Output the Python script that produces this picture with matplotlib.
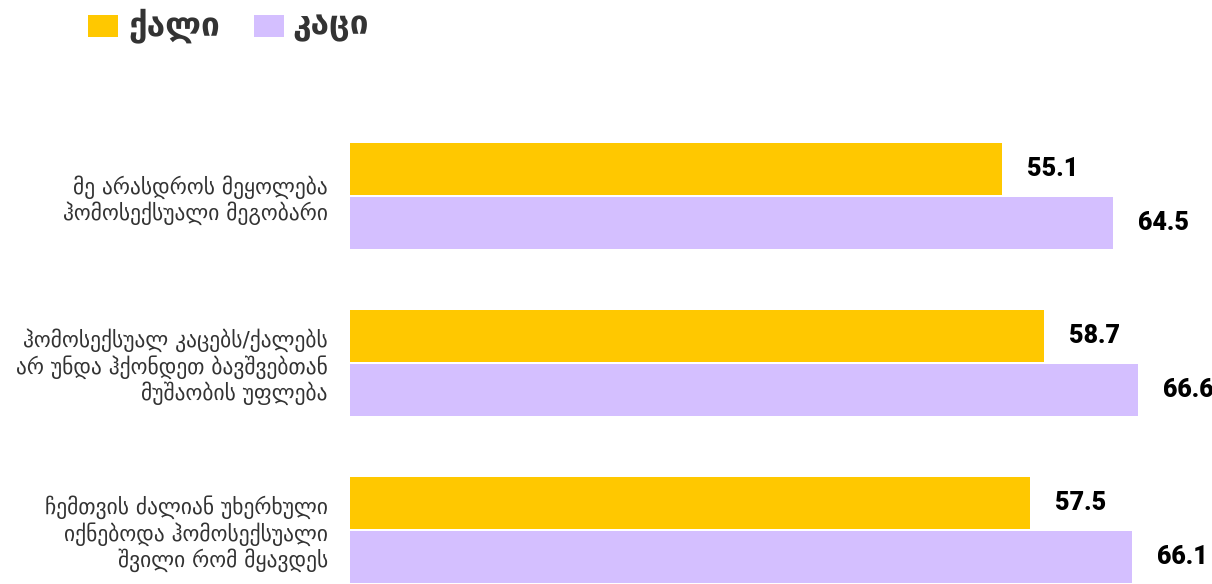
import matplotlib
matplotlib.use('Agg')
import matplotlib.pyplot as plt
from matplotlib.patches import Rectangle
import numpy

categories = [
    'მე არასდროს მეყოლება\nჰომოსექსუალი მეგობარი',
    'ჰომოსექსუალ კაცებს/ქალებს\nარ უნდა ჰქონდეთ ბავშვებთან\nმუშაობის უფლება',
    'ჩემთვის ძალიან უხერხული\nიქნებოდა ჰომოსექსუალი\nშვილი რომ მყავდეს',
]
series_names = ['ქალი', 'კაცი']
women = [55.1, 58.7, 57.5]
men = [64.5, 66.6, 66.1]
colors = ['#FFC800', '#D4BFFF']

W, H = 1212, 584
fig = plt.figure(figsize=(W / 100, H / 100), dpi=100)

# axes: x=0 at px 350, 11.83 px per unit; group pitch 167 px
left = 350 / W
ax = fig.add_axes([left, 0, 1 - left, (H - 96) / H])
ax.set_xlim(0, (W - 350) / 11.83)
ax.set_ylim(2.323, -0.6)

y = numpy.arange(len(categories))
h = 52 / 167
off = 27 / 167
for vals, color, sign in zip([women, men], colors, [-1, 1]):
    bars = ax.barh(y + sign * off, vals, height=h, color=color, linewidth=0)
    for b, v in zip(bars, vals):
        ax.annotate('%.1f' % v, (v, b.get_y() + b.get_height() / 2),
                    xytext=(25, 0), textcoords='offset pixels',
                    ha='left', va='center', fontsize=18, fontweight=900,
                    family='Roboto', color='black')

ax.set_yticks(y)
ax.set_yticklabels(categories, fontsize=15.5, color='#333333',
                   family='DejaVu Sans', linespacing=1.15)
ax.tick_params(axis='y', length=0, pad=16)
ax.set_xticks([])
for s in ax.spines.values():
    s.set_visible(False)

# legend drawn by hand
lx = [88, 254]
tx = [128, 292]
for name, color, x0, x1 in zip(series_names, colors, lx, tx):
    fig.add_artist(Rectangle((x0 / W, 1 - 37 / H), 30 / W, 22 / H,
                             transform=fig.transFigure, color=color,
                             linewidth=0))
    fig.text(x1 / W, 1 - 26 / H, name, ha='left', va='center',
             fontsize=24, fontweight='bold', color='#333333',
             family='DejaVu Sans')

fig.savefig('out.png', dpi=100)
